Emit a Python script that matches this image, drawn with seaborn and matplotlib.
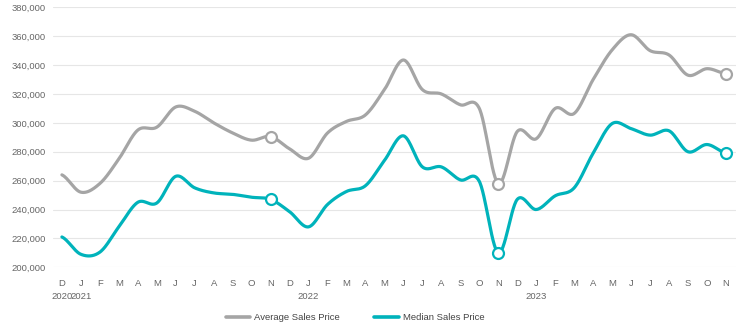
import numpy as np
import pandas as pd
import matplotlib
matplotlib.use("Agg")
import matplotlib.pyplot as plt
import seaborn as sns
from matplotlib.lines import Line2D

# ---- data ----
months = ["D", "J", "F", "M", "A", "M", "J", "J", "A", "S", "O", "N",
          "D", "J", "F", "M", "A", "M", "J", "J", "A", "S", "O", "N",
          "D", "J", "F", "M", "A", "M", "J", "J", "A", "S", "O", "N"]
year_labels = {0: "2020", 1: "2021", 13: "2022", 25: "2023"}
avg_price = [264, 252, 258, 275, 295, 297, 311, 308, 300, 293, 288, 290.5,
             282, 275.5, 293, 301, 305.5, 323, 343.5, 323, 320, 312.5, 310, 258,
             294, 289, 310, 306.5, 330, 350.5, 361, 350, 347, 333, 337.5, 334]
median_price = [221, 209, 210.5, 228, 245, 244.5, 263, 255, 251.5, 250.5, 248.5, 247,
                238.5, 228, 243.5, 252.5, 256.5, 274, 291, 269.5, 269.5, 260.5, 259.5, 210,
                247, 240, 249.5, 255, 279, 299.5, 296, 291.5, 294.5, 280, 285, 279]
marker_idx = [11, 23, 35]
series_names = ["Average Sales Price", "Median Sales Price"]
colors = ["#a5a5a5", "#00b3bb"]


def spline(ys):
    """Catmull-Rom smooth path through the points (x = index)."""
    y = np.array(ys, dtype=float) * 1000
    n = len(y)
    yp = np.concatenate([[y[0]], y, [y[-1]]])
    t = np.linspace(0, 1, 30)
    X, Y = [], []
    for i in range(n - 1):
        p0, p1, p2, p3 = yp[i], yp[i + 1], yp[i + 2], yp[i + 3]
        m1 = (p2 - p0) / 2
        m2 = (p3 - p1) / 2
        h00 = 2 * t**3 - 3 * t**2 + 1
        h10 = t**3 - 2 * t**2 + t
        h01 = -2 * t**3 + 3 * t**2
        h11 = t**3 - t**2
        X.extend(i + t)
        Y.extend(h00 * p1 + h10 * m1 + h01 * p2 + h11 * m2)
    return np.array(X), np.array(Y)


frames = []
for name, vals in zip(series_names, [avg_price, median_price]):
    X, Y = spline(vals)
    frames.append(pd.DataFrame({"x": X, "y": Y, "series": name}))
curve = pd.concat(frames, ignore_index=True)

pts = pd.concat([
    pd.DataFrame({"x": marker_idx, "y": [avg_price[i] * 1000 for i in marker_idx], "series": series_names[0]}),
    pd.DataFrame({"x": marker_idx, "y": [median_price[i] * 1000 for i in marker_idx], "series": series_names[1]}),
], ignore_index=True)

# ---- plot ----
sns.set_style("white")
plt.rcParams["font.family"] = ["Liberation Sans", "DejaVu Sans"]

fig = plt.figure(figsize=(7.4, 3.27), dpi=100)
ax = fig.add_axes([53 / 740, 1 - 267.3 / 327, (736 - 53) / 740, 260 / 327])

palette = dict(zip(series_names, colors))
sns.lineplot(data=curve, x="x", y="y", hue="series", palette=palette, sort=False,
             estimator=None, linewidth=2.3, legend=False, ax=ax, zorder=3)
for name in series_names:
    sub = pts[pts.series == name]
    sns.scatterplot(data=sub, x="x", y="y", s=62, color="white", edgecolor=palette[name],
                    linewidth=1.6, legend=False, ax=ax, zorder=4)

ax.set_xlim(-0.47, 35.53)
ax.set_ylim(200000, 380000)
ax.set_yticks(np.arange(200000, 380001, 20000))
ax.set_yticklabels([f"{int(v):,}" for v in np.arange(200000, 380001, 20000)])
ax.set_xticks(range(len(months)))
ax.set_xticklabels(months)
ax.set_xlabel("")
ax.set_ylabel("")
ax.grid(axis="y", color="#e6e6e6", linewidth=0.8)
ax.grid(axis="x", visible=False)
for s in ax.spines.values():
    s.set_visible(False)
ax.tick_params(axis="x", length=0, pad=8.5, labelsize=6.8, labelcolor="#666666")
ax.tick_params(axis="y", length=0, pad=5.5, labelsize=6.8, labelcolor="#666666")

for i, yl in year_labels.items():
    ax.text(i, -0.114, yl, transform=ax.get_xaxis_transform(), ha="center", va="center",
            fontsize=6.8, color="#666666")

handles = [Line2D([0], [0], color=c, lw=2.6) for c in colors]
fig.legend(handles, series_names, loc="center", bbox_to_anchor=(355 / 740, 1 - 318 / 327),
           ncol=2, frameon=False, fontsize=6.8, handlelength=2.6, handletextpad=0.45,
           columnspacing=3.6, labelcolor="#444444")

fig.savefig("out.png", dpi=100)
